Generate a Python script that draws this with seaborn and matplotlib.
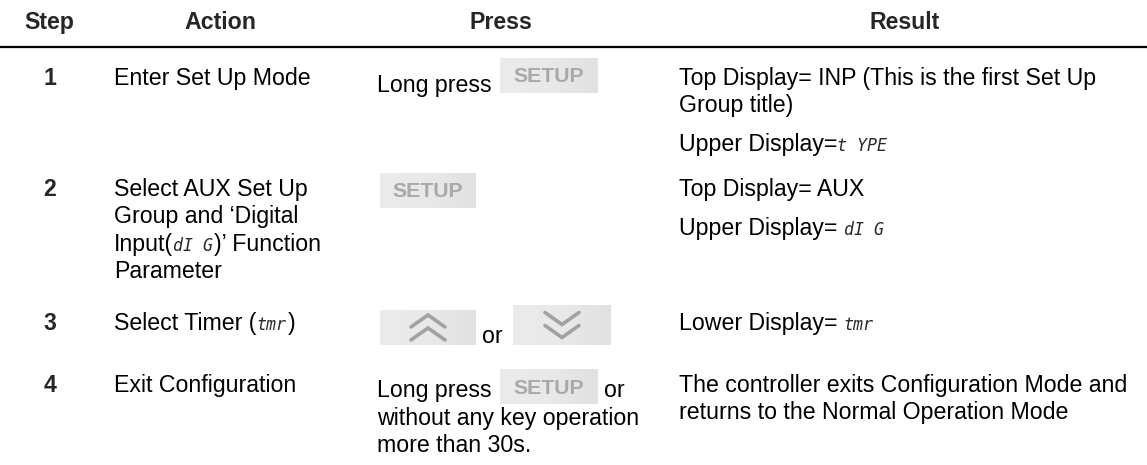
import re
import numpy as np
import matplotlib
matplotlib.use("Agg")
import matplotlib.pyplot as plt
from matplotlib.colors import LinearSegmentedColormap
import seaborn as sns

# table content
headers = ['Step', 'Action', 'Press', 'Result']
steps = ['1', '2', '3', '4']
# text in {} is shown in the seven segment display style
actions = [
    ['Enter Set Up Mode'],
    ['Select AUX Set Up', 'Group and \u2018Digital', 'Input({dI G})\u2019 Function', 'Parameter'],
    ['Select Timer ({tmr})'],
    ['Exit Configuration'],
]
results = [
    [['Top Display= INP (This is the first Set Up', 'Group title)'], ['Upper Display={t YPE}']],
    [['Top Display= AUX'], ['Upper Display= {dI G}']],
    [['Lower Display= {tmr}']],
    [['The controller exits Configuration Mode and', 'returns to the Normal Operation Mode']],
]
press_long = 'Long press'
press_or = 'or'
press_tail = ['without any key operation', 'more than 30s.']
key_label = 'SETUP'

# layout (pixels)
W, H = 1147, 465
FS = 16.7            # body font size in pt
CAP = 16.6           # cap height in px
LINE = 27.5          # line pitch in px
PARA = 39            # paragraph pitch in px
header_x = [49, 220, 501, 905]
step_x = 50
action_x = 114
result_x = 679
row_top = [68, 179, 313, 375]

sns.set_theme(style="white")
plt.rcParams['font.family'] = ['Liberation Sans', 'DejaVu Sans']

fig = plt.figure(figsize=(W / 100, H / 100), dpi=100)
ax = fig.add_axes([0, 0, 1, 1])
fig.canvas.draw()
renderer = fig.canvas.get_renderer()


def put_line(x, base, line, **kw):
    """
    Writes one line of text, switching to the display style for {..} parts.
    """
    for part in re.split(r'(\{[^}]*\})', line):
        if not part:
            continue
        if part.startswith('{'):
            t = ax.text(x, base, part[1:-1], fontsize=12, fontstyle='italic',
                        family='DejaVu Sans Mono', color='#2a2a2a', va='baseline')
            x += t.get_window_extent(renderer).width + 1
        else:
            body = part.rstrip(' ')
            t = ax.text(x, base, body, fontsize=FS, color='black', va='baseline', **kw)
            x += t.get_window_extent(renderer).width + 6.4 * (len(part) - len(body))
    return x


def draw_key(x0, y0, w, h, label=None, arrow=None):
    """
    Draws a grey key button, with a text label or a double chevron.
    """
    cmap = LinearSegmentedColormap.from_list('key', ['#ebebeb', '#e9e9e9', '#e1e1e1'])
    ax.imshow(np.linspace(0, 1, 64).reshape(1, -1), cmap=cmap, aspect='auto',
              extent=[x0, x0 + w, y0 + h, y0], zorder=1)
    cx, cy = x0 + w / 2, y0 + h / 2
    if label:
        ax.text(cx, cy + 1, label, fontsize=15.3, fontweight='bold', color='#a9a9a9',
                ha='center', va='center', zorder=2)
    if arrow:
        sgn = -1 if arrow == 'up' else 1
        for off in (-6.5, 6.5):
            yy = cy + off
            ax.plot([cx - 17, cx, cx + 17], [yy - sgn * 6, yy + sgn * 6, yy - sgn * 6],
                    color='#a2a2a2', lw=2.6, solid_joinstyle='miter', zorder=2)


# header
for hx, name in zip(header_x, headers):
    ax.text(hx, 29, name, fontsize=FS, fontweight='bold', ha='center', va='baseline')
ax.plot([0, W], [47, 47], color='black', lw=1.6)

# step and action columns
for top, step, lines in zip(row_top, steps, actions):
    ax.text(step_x, top + CAP, step, fontsize=FS, fontweight='bold', ha='center', va='baseline')
    for i, line in enumerate(lines):
        put_line(action_x, top + CAP + i * LINE, line)

# result column
for top, paras in zip(row_top, results):
    base = top + CAP
    for para in paras:
        for i, line in enumerate(para):
            put_line(result_x, base + i * LINE, line)
        base += (len(para) - 1) * LINE + PARA

# press column
put_line(377, 92, press_long)
draw_key(500, 58, 98, 35, label=key_label)

draw_key(380, 173, 96, 35, label=key_label)

draw_key(380, 310, 96, 35, arrow='up')
put_line(482, 343, press_or)
draw_key(513, 305, 98, 40, arrow='down')

put_line(377, 397, press_long)
draw_key(500, 370, 98, 34, label=key_label)
put_line(604, 397, press_or)
for i, line in enumerate(press_tail):
    put_line(377, 397 + (i + 1) * LINE, line)

ax.set_xlim(0, W)
ax.set_ylim(H, 0)
ax.axis('off')
fig.savefig('out.png', dpi=100, facecolor='white')
